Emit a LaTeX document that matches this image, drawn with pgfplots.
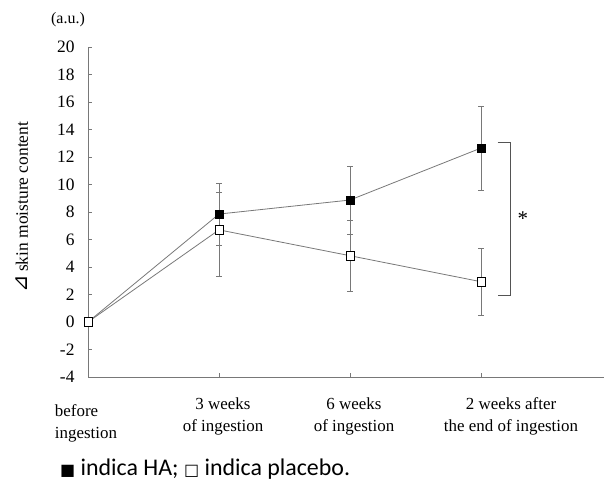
\documentclass[border=0pt]{standalone}
\usepackage{pgfplots}
\pgfplotsset{compat=1.18}
\usepackage{fontspec}
\setmainfont{Liberation Serif}
\newfontfamily\dv{DejaVu Sans}
\newfontfamily\calib{Carlito}
\definecolor{axgray}{RGB}{120,120,120}
\begin{document}
\begin{tikzpicture}[x=1bp,y=1bp]
\useasboundingbox (0,0) rectangle (604,481);
\begin{axis}[
  at={(88bp,104bp)}, anchor=south west,
  x=131bp, y=13.75bp,
  xmin=0, xmax=3.94, ymin=-4, ymax=20,
  axis lines=left,
  axis line style={-, axgray, line width=0.9pt},
  tick style={axgray, line width=0.8pt},
  major tick length=4bp,
  tick align=inside,
  clip=false,
  ytick={-4,-2,0,2,4,6,8,10,12,14,16,18,20},
  yticklabels={-4,-2,0,2,4,6,8,10,12,14,16,18,20},
  yticklabel style={font=\fontsize{17.5}{20}\selectfont, xshift=-10bp},
  xtick={1,2,3},
  xticklabels={{3 weeks\\of ingestion},{6 weeks\\of ingestion},{\hspace*{52bp}2 weeks after\\\hspace*{52bp}the end of ingestion}},
  xticklabel style={font=\fontsize{17}{22}\selectfont, align=center, yshift=-17bp, xshift=4bp},
  extra x ticks={0},
  extra x tick labels={{before\\ingestion}},
  extra x tick style={xticklabel style={align=left, yshift=-7bp, xshift=-6bp}},
]
% indica HA
\addplot+[axgray, line width=0.8pt, mark=square*, mark size=4.2bp,
  mark options={draw=black, fill=black, line width=0.6pt},
  error bars/.cd, y dir=both, y explicit,
  error bar style={axgray, line width=0.8pt},
  error mark options={rotate=90, mark size=2.8bp, axgray, line width=0.8pt}]
  coordinates {(0,0) +- (0,0) (1,7.85) +- (0,2.25) (2,8.87) +- (0,2.48) (3,12.65) +- (0,3.05)};
% indica placebo
\addplot+[axgray, line width=0.8pt, mark=square*, mark size=4.2bp,
  mark options={draw=black, fill=white, line width=0.6pt},
  error bars/.cd, y dir=both, y explicit,
  error bar style={axgray, line width=0.8pt},
  error mark options={rotate=90, mark size=2.8bp, axgray, line width=0.8pt}]
  coordinates {(0,0) +- (0,0) (1,6.70) += (0,2.75) -= (0,3.40) (2,4.82) +- (0,2.60) (3,2.93) +- (0,2.45)};
% significance bracket
\draw[axgray!70!black, line width=0.9pt] (axis cs:3.127,13.05) -- (axis cs:3.227,13.05) -- (axis cs:3.227,1.96) -- (axis cs:3.127,1.96);
\node[font=\fontsize{21}{22}\selectfont] at (axis cs:3.32,7.5) {*};
\end{axis}
\node[font=\fontsize{16}{18}\selectfont] at (68,461) {(a.u.)};
\node[rotate=90, font=\fontsize{17.5}{18}\selectfont] at (22,274) {{\dv\fontsize{21}{18}\selectfont ⊿}\,skin moisture content};
\node[anchor=base west, font=\fontsize{24}{26}\selectfont\calib, inner sep=0pt] at (60,5.5) {{\dv\fontsize{16}{16}\selectfont ■} indica HA; {\dv\fontsize{16}{16}\selectfont □} indica placebo.};
\end{tikzpicture}
\end{document}
